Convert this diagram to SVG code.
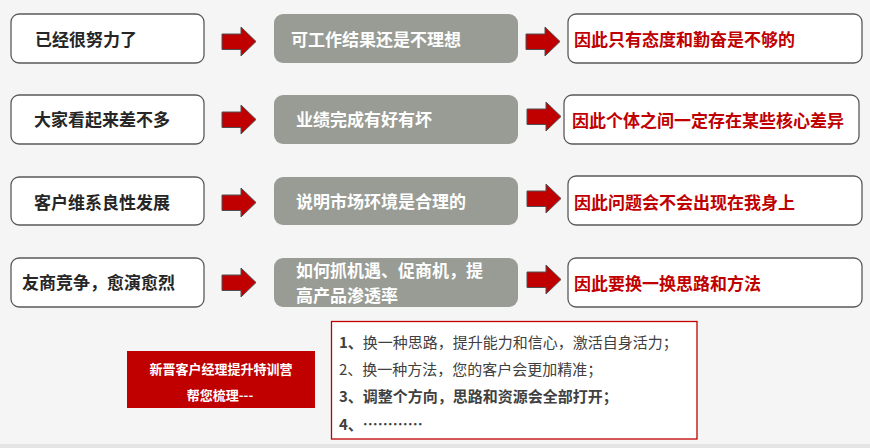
<svg xmlns="http://www.w3.org/2000/svg" xmlns:xlink="http://www.w3.org/1999/xlink" width="870" height="448" viewBox="0 0 870 448">
<defs>
<style>
.wb{fill:#ffffff;stroke:#5a5a5a;stroke-width:1.3}
.gb{fill:#989c94}
.lt{font-family:"Noto Sans CJK SC","Liberation Sans",sans-serif;font-weight:bold;font-size:17px;fill:#262626}
.gt{font-family:"Noto Sans CJK SC","Liberation Sans",sans-serif;font-weight:bold;font-size:17px;fill:#ffffff}
.rt{font-family:"Noto Sans CJK SC","Liberation Sans",sans-serif;font-weight:bold;font-size:17px;fill:#c00000}
.bt{font-family:"Noto Sans CJK SC","Liberation Sans",sans-serif;font-size:15px;fill:#404040}
.st{font-family:"Noto Sans CJK SC","Liberation Sans",sans-serif;font-weight:bold;font-size:13px;fill:#ffffff}
.arr{fill:#c00000;stroke:#505050;stroke-width:1}
</style>
<path id="arrow" class="arr" d="M0,7 H19 V0 L34,14.5 L19,29 V22.5 H0 Z"/>
</defs>
<rect x="0" y="0" width="870" height="448" fill="#f5f5f5"/>
<rect x="0" y="444" width="870" height="4" fill="#e4e4e4"/>

<g id="connectors">
<use xlink:href="#arrow" x="222" y="27"/>
<use xlink:href="#arrow" x="526" y="27"/>
<use xlink:href="#arrow" x="222" y="105"/>
<use xlink:href="#arrow" x="527" y="102"/>
<use xlink:href="#arrow" x="222" y="188"/>
<use xlink:href="#arrow" x="527" y="184"/>
<use xlink:href="#arrow" x="222" y="268"/>
<use xlink:href="#arrow" x="527" y="265"/>
</g>

<g id="l1"><rect class="wb" x="11" y="14" width="193" height="49" rx="8"/><text class="lt" x="35" y="46">已经很努力了</text></g>
<g id="g1"><rect class="gb" x="274" y="14" width="244" height="49" rx="9"/><text class="gt" x="291" y="46">可工作结果还是不理想</text></g>
<g id="r1"><rect class="wb" x="568" y="14" width="294" height="49" rx="8"/><text class="rt" x="574" y="46">因此只有态度和勤奋是不够的</text></g>

<g id="l2"><rect class="wb" x="11" y="95" width="193" height="49" rx="8"/><text class="lt" x="34" y="126">大家看起来差不多</text></g>
<g id="g2"><rect class="gb" x="274" y="95" width="244" height="49" rx="9"/><text class="gt" x="296" y="126">业绩完成有好有坏</text></g>
<g id="r2"><rect class="wb" x="564" y="95" width="295" height="49" rx="8"/><text class="rt" x="572" y="127">因此个体之间一定存在某些核心差异</text></g>

<g id="l3"><rect class="wb" x="11" y="177" width="193" height="48" rx="8"/><text class="lt" x="34" y="209">客户维系良性发展</text></g>
<g id="g3"><rect class="gb" x="274" y="177" width="244" height="48" rx="9"/><text class="gt" x="296" y="208">说明市场环境是合理的</text></g>
<g id="r3"><rect class="wb" x="568" y="176" width="294" height="49" rx="8"/><text class="rt" x="574" y="209">因此问题会不会出现在我身上</text></g>

<g id="l4"><rect class="wb" x="11" y="258" width="193" height="49" rx="8"/><text class="lt" x="22" y="289">友商竞争，愈演愈烈</text></g>
<g id="g4"><rect class="gb" x="274" y="258" width="244" height="49" rx="9"/><text class="gt" x="296" y="277">如何抓机遇、促商机，提</text><text class="gt" x="296" y="302">高产品渗透率</text></g>
<g id="r4"><rect class="wb" x="568" y="258" width="294" height="49" rx="8"/><text class="rt" x="574" y="290">因此要换一换思路和方法</text></g>

<g id="badge"><rect x="127" y="351" width="188" height="57" fill="#c00000"/><text class="st" x="221" y="374" text-anchor="middle">新晋客户经理提升特训营</text><text class="st" x="220" y="400" text-anchor="middle">帮您梳理---</text></g>

<g id="notes"><rect x="331.5" y="321.5" width="365.5" height="117.5" fill="#ffffff" stroke="#c00000" stroke-width="1.3"/>
<text class="bt" x="339" y="348"><tspan font-weight="bold">1、</tspan>换一种思路，提升能力和信心，激活自身活力；</text>
<text class="bt" x="339" y="375">2、换一种方法，您的客户会更加精准；</text>
<text class="bt" x="339" y="402" font-weight="bold">3、调整个方向，思路和资源会全部打开；</text>
<text class="bt" x="339" y="430" font-weight="bold">4、…………</text>
</g>
</svg>
